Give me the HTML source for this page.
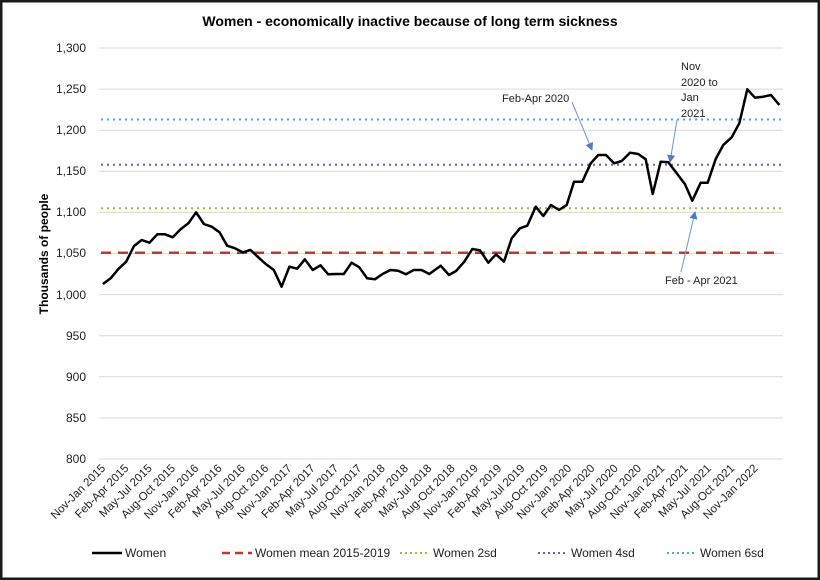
<!DOCTYPE html>
<html><head><meta charset="utf-8"><style>
html,body{margin:0;padding:0;background:#fff}
svg{display:block;font-family:"Liberation Sans",sans-serif}
</style></head><body>
<svg width="820" height="580" viewBox="0 0 820 580">
<rect x="1" y="1" width="818" height="578" fill="#fff" stroke="#1a1a1a" stroke-width="3"/>
<text x="410" y="26" text-anchor="middle" font-size="14" font-weight="bold">Women - economically inactive because of long term sickness</text>
<g stroke="#d9d9d9" stroke-width="1">
<line x1="99" x2="783" y1="48" y2="48"/><line x1="99" x2="783" y1="89.1" y2="89.1"/><line x1="99" x2="783" y1="130.2" y2="130.2"/><line x1="99" x2="783" y1="171.3" y2="171.3"/><line x1="99" x2="783" y1="212.4" y2="212.4"/><line x1="99" x2="783" y1="253.5" y2="253.5"/><line x1="99" x2="783" y1="294.6" y2="294.6"/><line x1="99" x2="783" y1="335.7" y2="335.7"/><line x1="99" x2="783" y1="376.8" y2="376.8"/><line x1="99" x2="783" y1="417.9" y2="417.9"/><line x1="99" x2="783" y1="459" y2="459"/>
</g>
<g font-size="12" text-anchor="end" fill="#222">
<text x="86" y="52">1,300</text><text x="86" y="93">1,250</text><text x="86" y="134">1,200</text><text x="86" y="175">1,150</text><text x="86" y="216">1,100</text><text x="86" y="257">1,050</text><text x="86" y="299">1,000</text><text x="86" y="340">950</text><text x="86" y="381">900</text><text x="86" y="422">850</text><text x="86" y="463">800</text>
</g>
<text transform="translate(48,254) rotate(-90)" text-anchor="middle" font-size="12" font-weight="bold">Thousands of people</text>
<line x1="101" x2="781" y1="252.7" y2="252.7" stroke="#c0392b" stroke-width="2.5" stroke-dasharray="10,7"/>
<line x1="101" x2="781" y1="208.3" y2="208.3" stroke="#9bbb3b" stroke-width="2" stroke-dasharray="2,4"/>
<line x1="101" x2="781" y1="164.7" y2="164.7" stroke="#7460a8" stroke-width="2" stroke-dasharray="2,4"/>
<line x1="101" x2="781" y1="119.5" y2="119.5" stroke="#4aaccc" stroke-width="2" stroke-dasharray="2,4"/>
<polyline fill="none" stroke="#000" stroke-width="2.5" stroke-linejoin="round" points="102.9,284 110.7,278.3 118.4,269 126.2,261.7 134,246 141.7,240 149.5,242.7 157.3,234.3 165.1,234.3 172.8,237.3 180.6,229.3 188.4,223.3 196.1,212.3 203.9,224 211.7,226.7 219.5,232.3 227.2,245.7 235,248.3 242.8,252.3 250.5,250 258.3,257.3 266.1,264.3 273.8,270 281.6,286.7 289.4,266.7 297.2,268.7 304.9,259.3 312.7,270 320.5,265.3 328.2,274.3 336,274 343.8,274 351.6,262.7 359.3,267.3 367.1,278.3 374.9,279.3 382.6,274 390.4,270 398.2,270.7 405.9,274.3 413.7,270 421.5,270 429.3,274 440.7,265.7 449,275 456,271 464.3,261.7 472.3,249 480,250.3 488.3,262.7 496,254.3 504,261.7 511.7,238.3 520,228.3 527.3,225.7 535.7,206.7 543.3,216 551,205 559,210 566.7,205 574,181.7 582.3,181.7 590.7,163.3 598.3,155 606,155 614,163.3 621.7,161 630,152.7 638.3,154 645.7,159.3 652.7,194 660.7,161.7 668.3,162.3 676.7,173.3 685,184.3 692.3,200.7 700.7,182.7 707.7,182.7 715.7,159 723.3,145 731.7,137.3 739.3,123.3 747.3,89.3 755,97.7 763.3,96.7 771,95 779.3,105"/>
<defs><marker id="a" markerWidth="8" markerHeight="8" refX="7" refY="4" orient="auto" markerUnits="userSpaceOnUse"><path d="M0,0 L8,4 L0,8 z" fill="#4a7ec4"/></marker></defs>
<g stroke="#6a96d0" stroke-width="1" marker-end="url(#a)">
<line x1="572" y1="102" x2="592" y2="150"/>
<line x1="677" y1="120" x2="670" y2="162"/>
<line x1="681" y1="272" x2="695" y2="212"/>
</g>
<g font-size="11" fill="#222">
<text x="502" y="102">Feb-Apr 2020</text>
<text x="681" y="70">Nov</text><text x="681" y="86">2020 to</text><text x="681" y="101">Jan</text><text x="681" y="117">2021</text>
<text x="665" y="284">Feb - Apr 2021</text>
</g>
<g font-size="11.5" text-anchor="end" fill="#222">
<text transform="translate(106,469) rotate(-45)">Nov-Jan 2015</text>
<text transform="translate(129.3,469) rotate(-45)">Feb-Apr 2015</text>
<text transform="translate(152.6,469) rotate(-45)">May-Jul 2015</text>
<text transform="translate(175.9,469) rotate(-45)">Aug-Oct 2015</text>
<text transform="translate(199.2,469) rotate(-45)">Nov-Jan 2016</text>
<text transform="translate(222.5,469) rotate(-45)">Feb-Apr 2016</text>
<text transform="translate(245.8,469) rotate(-45)">May-Jul 2016</text>
<text transform="translate(269.1,469) rotate(-45)">Aug-Oct 2016</text>
<text transform="translate(292.4,469) rotate(-45)">Nov-Jan 2017</text>
<text transform="translate(315.7,469) rotate(-45)">Feb-Apr 2017</text>
<text transform="translate(339,469) rotate(-45)">May-Jul 2017</text>
<text transform="translate(362.3,469) rotate(-45)">Aug-Oct 2017</text>
<text transform="translate(385.6,469) rotate(-45)">Nov-Jan 2018</text>
<text transform="translate(408.9,469) rotate(-45)">Feb-Apr 2018</text>
<text transform="translate(432.2,469) rotate(-45)">May-Jul 2018</text>
<text transform="translate(455.5,469) rotate(-45)">Aug-Oct 2018</text>
<text transform="translate(478.8,469) rotate(-45)">Nov-Jan 2019</text>
<text transform="translate(502.1,469) rotate(-45)">Feb-Apr 2019</text>
<text transform="translate(525.4,469) rotate(-45)">May-Jul 2019</text>
<text transform="translate(548.7,469) rotate(-45)">Aug-Oct 2019</text>
<text transform="translate(572,469) rotate(-45)">Nov-Jan 2020</text>
<text transform="translate(595.3,469) rotate(-45)">Feb-Apr 2020</text>
<text transform="translate(618.6,469) rotate(-45)">May-Jul 2020</text>
<text transform="translate(641.9,469) rotate(-45)">Aug-Oct 2020</text>
<text transform="translate(665.2,469) rotate(-45)">Nov-Jan 2021</text>
<text transform="translate(688.5,469) rotate(-45)">Feb-Apr 2021</text>
<text transform="translate(711.8,469) rotate(-45)">May-Jul 2021</text>
<text transform="translate(735.1,469) rotate(-45)">Aug-Oct 2021</text>
<text transform="translate(758.4,469) rotate(-45)">Nov-Jan 2022</text>
</g>
<g font-size="12" fill="#222">
<line x1="92" x2="122" y1="553" y2="553" stroke="#000" stroke-width="2.5"/><text x="125" y="557">Women</text>
<line x1="222" x2="252" y1="553" y2="553" stroke="#c0392b" stroke-width="2.5" stroke-dasharray="8,5"/><text x="255" y="557">Women mean 2015-2019</text>
<line x1="400" x2="430" y1="553" y2="553" stroke="#9bbb3b" stroke-width="2" stroke-dasharray="2,3"/><text x="433" y="557">Women 2sd</text>
<line x1="538" x2="568" y1="553" y2="553" stroke="#7460a8" stroke-width="2" stroke-dasharray="2,3"/><text x="571" y="557">Women 4sd</text>
<line x1="667" x2="697" y1="553" y2="553" stroke="#4aaccc" stroke-width="2" stroke-dasharray="2,3"/><text x="700" y="557">Women 6sd</text>
</g>
</svg>
</body></html>
